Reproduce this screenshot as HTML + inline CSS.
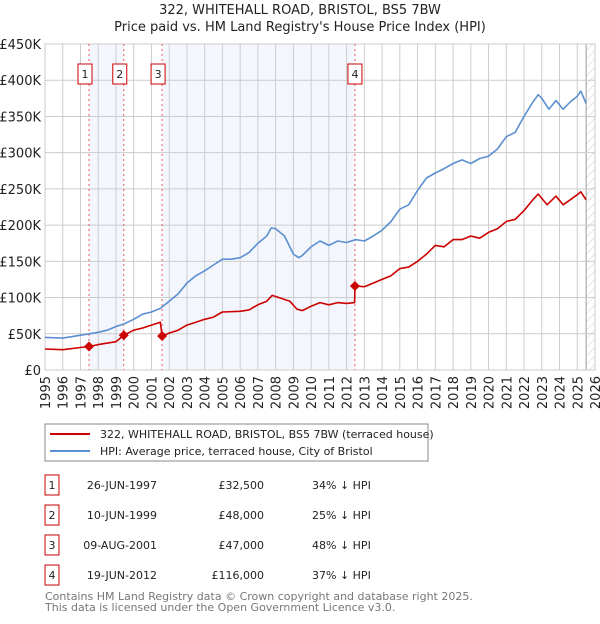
<!DOCTYPE html>
<html><head><meta charset="utf-8"><style>
body{margin:0;background:#fff;font-family:"DejaVu Sans","Liberation Sans",sans-serif;}
svg text{font-family:"DejaVu Sans","Liberation Sans",sans-serif;}
</style></head><body>
<svg id="c" width="600" height="620">
<defs><pattern id="hatch" width="6" height="6" patternUnits="userSpaceOnUse" patternTransform="rotate(45)"><line x1="0" y1="0" x2="0" y2="6" stroke="#ccc" stroke-width="1"/></pattern></defs>
<text x="300" y="14" text-anchor="middle" font-size="13" fill="#222">322, WHITEHALL ROAD, BRISTOL, BS5 7BW</text>
<text x="300" y="31" text-anchor="middle" font-size="13" fill="#222">Price paid vs. HM Land Registry's House Price Index (HPI)</text>
<g id="plot"></g>
<rect x="45" y="424" width="383" height="37" fill="#fff" stroke="#888"/>
<line x1="50" y1="434" x2="90" y2="434" stroke="#cc0000" stroke-width="2"/>
<text x="100" y="438" font-size="11" fill="#222">322, WHITEHALL ROAD, BRISTOL, BS5 7BW (terraced house)</text>
<line x1="50" y1="451" x2="90" y2="451" stroke="#5b8fd0" stroke-width="2"/>
<text x="100" y="455" font-size="11" fill="#222">HPI: Average price, terraced house, City of Bristol</text>
<g id="table" font-size="11" fill="#222"></g>
<text x="45" y="600" font-size="11" fill="#777">Contains HM Land Registry data © Crown copyright and database right 2025.</text>
<text x="45" y="611" font-size="11" fill="#777">This data is licensed under the Open Government Licence v3.0.</text>
</svg>
<script>
const hpiYears=[1995,1996,1996.5,1997,1997.5,1998,1998.5,1999,1999.5,2000,2000.5,2001,2001.5,2002,2002.5,2003,2003.5,2004,2004.5,2005,2005.5,2006,2006.5,2007,2007.5,2007.75,2008,2008.5,2009,2009.3,2009.5,2010,2010.5,2011,2011.5,2012,2012.5,2013,2013.5,2014,2014.5,2015,2015.5,2016,2016.5,2017,2017.5,2018,2018.5,2019,2019.5,2020,2020.5,2021,2021.5,2022,2022.5,2022.8,2023,2023.4,2023.8,2024.2,2024.6,2025,2025.2,2025.5];
const hpiValues=[45,44,46,48,50,52,55,60,64,70,77,80,85,95,105,120,130,137,145,153,153,155,162,175,185,196,195,185,160,155,158,170,178,172,178,176,180,178,185,193,205,222,228,248,265,272,278,285,290,285,292,295,305,322,328,350,370,380,375,360,372,360,370,378,385,368];
const priceYears=[1995,1996,1997,1997.48,1998,1999,1999.44,2000,2000.5,2001,2001.5,2001.6,2002,2002.5,2003,2003.5,2004,2004.5,2005,2006,2006.5,2007,2007.5,2007.8,2008.3,2008.8,2009.2,2009.5,2010,2010.5,2011,2011.5,2012,2012.45,2012.47,2013,2013.5,2014,2014.5,2015,2015.5,2016,2016.5,2017,2017.5,2018,2018.5,2019,2019.5,2020,2020.5,2021,2021.5,2022,2022.5,2022.8,2023.3,2023.8,2024.2,2024.6,2025,2025.2,2025.5];
const priceValues=[29,28,31,32.5,35,39,48,55,58,62,66,47,51,55,62,66,70,73,80,81,83,90,95,103,99,95,84,82,88,93,90,93,92,93,116,115,120,125,130,140,142,150,160,172,170,180,180,185,182,190,195,205,208,220,235,243,228,240,228,235,242,246,235];
const saleLabels=["1","2","3","4"];
const saleYears=[1997.48,1999.44,2001.6,2012.47];
const saleValues=[32.5,48,47,116];
const saleDates=["26-JUN-1997","10-JUN-1999","09-AUG-2001","19-JUN-2012"];
const salePrices=["£32,500","£48,000","£47,000","£116,000"];
const saleDiffs=["34% ↓ HPI","25% ↓ HPI","48% ↓ HPI","37% ↓ HPI"];
const yTicks=[0,50,100,150,200,250,300,350,400,450];
const yTickLabels=["£0","£50K","£100K","£150K","£200K","£250K","£300K","£350K","£400K","£450K"];
const xTicks=[1995,1996,1997,1998,1999,2000,2001,2002,2003,2004,2005,2006,2007,2008,2009,2010,2011,2012,2013,2014,2015,2016,2017,2018,2019,2020,2021,2022,2023,2024,2025,2026];

const X0=45,X1=595,Y0=370,Y1=44;
const xs=y=>X0+(y-1995)/(2026-1995)*(X1-X0);
const ys=v=>Y0-v/450*(Y0-Y1);
const NS="http://www.w3.org/2000/svg";
const plot=document.getElementById('plot');
function mk(tag,attrs,parent){const e=document.createElementNS(NS,tag);for(const k in attrs)e.setAttribute(k,attrs[k]);(parent||plot).appendChild(e);return e;}
let e;
e=mk('rect',{x:X0,y:Y1,width:X1-X0,height:Y0-Y1,fill:'#fff'});


// shaded bands
[[0,1],[2,3]].forEach(([a,b],i)=>{
 e=mk('rect',{x:xs(saleYears[a]),y:Y1,width:xs(saleYears[b])-xs(saleYears[a]),height:Y0-Y1,fill:'#eef3fc',opacity:0.7});
 
 
});
e=mk('rect',{x:xs(2025.5),y:Y1,width:X1-xs(2025.5),height:Y0-Y1,fill:'url(#hatch)'});


mk('line',{x1:xs(2025.5),y1:Y1,x2:xs(2025.5),y2:Y0,stroke:'#999','stroke-width':1});
yTicks.forEach((t,i)=>{
 e=mk('line',{x1:X0,y1:ys(t),x2:X1,y2:ys(t),stroke:'#ccc','stroke-width':1});
 
 
 e=mk('text',{x:X0-4,y:ys(t)+5,'text-anchor':'end','font-size':13,fill:'#222'});
 e.textContent=yTickLabels[i];
 
 
});
xTicks.forEach(t=>{
 e=mk('line',{x1:xs(t),y1:Y1,x2:xs(t),y2:Y0,stroke:'#ccc','stroke-width':1});
 
 
 e=mk('text',{x:0,y:0,'text-anchor':'end','font-size':13,fill:'#222',transform:`translate(${xs(t)+5},${Y0+6}) rotate(-90)`});
 e.textContent=t;
 
 
});
mk('rect',{x:X0,y:Y1,width:X1-X0,height:Y0-Y1,fill:'none',stroke:'#ccc'});
saleYears.forEach((y,i)=>{
 e=mk('line',{x1:xs(y),y1:Y1,x2:xs(y),y2:Y0,stroke:'#e55','stroke-width':1,'stroke-dasharray':'2,3'});
 
 
});
function path(xa,va,col,name){
 const d=xa.map((x,i)=>(i?'L':'M')+xs(x).toFixed(1)+','+ys(va[i]).toFixed(1)).join('');
 e=mk('path',{d:d,fill:'none',stroke:col,'stroke-width':1.6,'stroke-linejoin':'round'});
 
 
}
path(hpiYears,hpiValues,'#5b8fd0','hpi-line');
path(priceYears,priceValues,'#cc0000','price-paid-line');
saleYears.forEach((y,i)=>{
 const cx=xs(y),cy=ys(saleValues[i]);
 e=mk('path',{d:`M${cx},${cy-5}L${cx+5},${cy}L${cx},${cy+5}L${cx-5},${cy}Z`,fill:'#cc0000'});
 
 
 e=mk('rect',{x:cx-14+ (i==3?-1:0),y:64,width:14,height:20,fill:'#fff',stroke:'#cc0000'});
 e.setAttribute('x',cx-7-((i==3)?0:4));
 
 
 e=mk('text',{x:cx-((i==3)?0:4),y:78,'text-anchor':'middle','font-size':11,fill:'#222'});
 e.textContent=saleLabels[i];
 
 
});
const tb=document.getElementById('table');
saleLabels.forEach((l,i)=>{
 const y=475+i*30;
 e=mk('rect',{x:45,y:y,width:14,height:20,fill:'#fff',stroke:'#cc0000'},tb);
 
 
 const cells=[[52,'middle',l],[157,'end',saleDates[i]],[264,'end',salePrices[i]],[312,'start',saleDiffs[i]]];
 cells.forEach(([x,a,t],j)=>{
  e=mk('text',{x:x,y:y+14,'text-anchor':a},tb);
  e.textContent=t;
  
  
 });
});
</script>
</body></html>
